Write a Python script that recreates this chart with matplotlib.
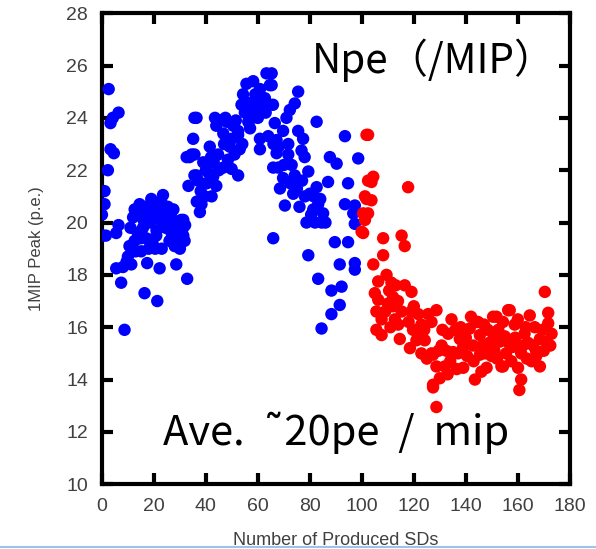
import matplotlib
matplotlib.use("Agg")
import matplotlib.pyplot as plt
from matplotlib.lines import Line2D

# ---- data ----
blue_x = [0, 0.3, 1, 1, 1.5, 2.3, 2.6, 3.3, 3.3, 4.2, 4.6, 5.5, 6.4, 6.4, 5.5, 7.4, 8.7, 8.1,
          10, 10.6, 11.3, 12.6, 12.6, 13.8, 14.5, 15.1, 15.8, 16.4, 17.4, 18.3, 19.0, 19.6, 20.9, 21, 21.3,
          22.2, 22.2, 23.5, 24.1, 25.4, 26.5, 28, 28.6, 29.2, 30.5, 31.2, 31.8, 32.8, 31.3, 31.3,
          11.5, 12, 14, 16.5, 17, 18, 19.5, 20, 21.5, 22.8, 23, 24.5, 25.5, 26, 27, 27.5, 29.5, 30, 32,
          9.5, 11, 13, 15, 16, 17.8, 20.5, 26.8,
          33.3, 33.7, 32.6, 34.5, 35.1, 35.6, 35.6, 35.6, 36.4, 36.4, 36.5, 37.7, 38.3, 39, 40.3, 41.5,
          42.2, 42.8, 43.5, 44.7, 45.4, 46.7, 46.7, 48, 49.2, 49.9, 50.5, 52.4, 52.4, 52.4, 53, 53.7, 54.3,
          55, 55.6, 56.3, 57.6, 58.2, 59.2, 60, 60.8, 60.8, 60.8, 62, 62.7, 63.3, 64, 64.6,
          38, 39.5, 40, 41, 43, 44, 45, 47, 48.5, 50, 51, 51.5, 54, 55.5, 57, 58, 59, 61.5, 63, 44, 47.5, 37, 42,
          65.3, 65.3, 65.9, 65.9, 67.2, 67.2, 67.8, 69.7, 69.7, 70.4, 71, 71.7, 71.7, 72.3, 73.6, 74.2, 74.2,
          75.5, 75.5, 76.8, 77.4, 78.1, 78.7, 79.4, 79.4, 80, 81.3, 82.6, 82.6, 83.2, 83.2, 84.5, 84.5, 85.1,
          87, 87.7, 88.3, 88.3, 89.6, 90.3, 91.5, 91.5, 92.2, 93.5, 93.5, 94.7, 94.7, 96.7, 97.3, 97.3, 97.3,
          97.3, 98.6,
          66.5, 68, 68.5, 70, 72.5, 73, 75, 76, 77, 78, 80.5, 81.5, 82, 84, 86, 65.8, 66]
blue_y = [20.3, 19.5, 21.2, 20.7, 19.5, 22.0, 25.1, 22.8, 23.8, 24.0, 22.65, 19.6, 24.2, 19.9, 18.25, 17.7, 15.9, 18.3,
          18.7, 19.1, 18.4, 19.3, 20.5, 19.6, 20.7, 18.9, 19.8, 17.3, 18.45, 20.0, 20.9, 20.2, 19.5, 19.7, 17.0,
          18.25, 20.1, 21.05, 20.2, 20.6, 20.3, 19.1, 18.4, 19.45, 20.1, 19.8, 19.3, 17.85, 20.1, 19.5,
          19.0, 20.2, 20.3, 20.6, 19.4, 19.0, 19.2, 20.6, 20.4, 20.8, 19.0, 19.8, 19.9, 19.3, 20.0, 20.5, 19.9, 19.0, 19.9,
          18.5, 19.8, 18.9, 19.4, 20.1, 20.5, 19.0, 19.6,
          21.4, 22.5, 22.5, 22.6, 23.2, 24.0, 22.6, 21.8, 24.0, 21.8, 20.8, 20.4, 20.7, 22.3, 21.5, 22.9,
          21.0, 21.75, 24.0, 22.6, 23.9, 23.4, 22.1, 23.85, 22.9, 22.05, 23.7, 23.5, 23.35, 21.8, 22.8, 24.5, 24.9,
          24.2, 25.3, 23.85, 24.55, 25.4, 24.3, 24.0, 25.1, 23.2, 22.8, 24.4, 24.75, 25.7, 23.3, 25.25,
          21.2, 21.0, 22.0, 21.9, 22.3, 21.4, 22.0, 23.0, 22.4, 23.2, 22.6, 23.9, 23.0, 24.6, 23.6, 24.0, 24.9, 24.6, 24.2, 23.7, 24.0, 21.6, 22.5,
          25.7, 25.25, 22.1, 19.4, 23.15, 22.65, 22.1, 23.5, 21.7, 20.65, 24.0, 23.0, 22.6, 24.3, 21.1, 24.55, 21.8,
          25.0, 23.5, 22.75, 23.2, 21.0, 20.0, 21.95, 18.75, 21.1, 20.5, 23.85, 21.35, 20.7, 17.85, 20.0, 15.95, 20.35,
          21.55, 22.5, 17.4, 16.5, 19.25, 22.25, 18.4, 16.85, 17.55, 23.3, 20.7, 21.5, 19.25, 20.35, 20.65, 19.95, 18.45,
          18.2, 22.45,
          23.8, 22.9, 21.3, 22.2, 21.5, 22.2, 21.3, 20.6, 21.6, 22.5, 20.3, 21.0, 20.0, 20.9, 20.0, 24.5, 23.0]

red_x = [99.9, 100.5, 101.2, 101.8, 102.4, 102.4, 104.4, 103.7, 101.8, 103.7, 102.4, 101.2, 100.5, 104.4, 105,
         105.6, 105.6, 106.3, 106.3, 107.6, 107.6, 108.2, 108.2, 109.5, 111.4, 112, 112, 112.7, 113.9, 114.6,
         115.3, 115.3, 116.5, 116.5, 117.8, 119.1, 119.7, 121, 121.7, 122.9, 122.9, 124.2, 126.8, 126.8, 127.4,
         127.4, 127.4, 128.7, 128.7, 128.7, 130, 130.7, 131.9, 133.2, 134.5, 135.1, 137.7, 139, 139, 141.5,
         142.8, 143.5, 144.1, 144.7, 145.4, 145.4, 148, 149.9, 150.5, 150.5, 151.8, 153.1, 153.7, 154.3, 154.3,
         155, 156.3, 156.9, 158.2, 158.8, 160.1, 160.6, 161.3, 161.3, 162.6, 164.6, 165.3, 165.9, 167.1, 168.5,
         168.5, 170.4, 171, 171.7, 171.7, 173,
         110, 110.5, 113, 118, 118.5, 120, 124, 125, 125.5, 129.5, 131, 132.5, 134, 136, 136.5, 138, 140, 140.5,
         142, 143, 146.5, 147, 147.5, 148.5, 149, 151, 152, 152.5, 155.5, 156.5, 157.5, 159, 160, 162, 163,
         163.5, 164, 166.5, 167, 169.5, 170, 172.5, 146, 137, 133, 122, 119, 114, 111, 109]
red_y = [19.65, 20.35, 21.0, 23.35, 23.35, 21.6, 21.75, 21.55, 20.9, 20.85, 20.35, 20.1, 19.6, 18.4, 17.3,
         16.6, 15.9, 17.75, 17.05, 16.3, 15.7, 19.4, 18.75, 18.0, 17.7, 17.15, 16.8, 16.3, 17.0, 15.55,
         19.5, 16.6, 19.1, 17.6, 21.35, 17.35, 15.9, 15.5, 16.5, 16.1, 15.0, 15.5, 16.2, 15.0, 13.8,
         14.95, 13.7, 16.65, 14.5, 12.95, 14.05, 15.3, 14.5, 15.75, 16.3, 15.05, 15.55, 15.25, 14.45, 15.95,
         15.3, 14.0, 16.2, 16.2, 15.7, 14.95, 14.45, 14.9, 15.75, 16.4, 16.4, 15.45, 14.5, 16.2, 14.5,
         15.65, 16.65, 16.65, 15.25, 16.1, 14.45, 13.6, 15.0, 14.0, 15.75, 16.45, 14.7, 15.3, 14.9, 15.55,
         14.5, 17.35, 15.45, 16.55, 16.15, 15.75,
         16.9, 17.4, 17.6, 16.2, 15.2, 16.8, 15.9, 14.8, 16.5, 15.1, 15.9, 15.1, 14.7, 15.9, 14.4, 16.0, 15.6, 14.9,
         16.4, 14.7, 15.3, 16.1, 15.0, 15.9, 15.4, 15.1, 14.8, 15.9, 15.0, 15.4, 14.7, 15.6, 16.3, 15.3, 16.0,
         14.8, 15.4, 16.0, 15.1, 15.9, 15.1, 15.3, 14.3, 15.0, 14.2, 15.8, 16.6, 16.1, 16.0, 16.6]

x_ticks = [0, 20, 40, 60, 80, 100, 120, 140, 160, 180]
y_ticks = [10, 12, 14, 16, 18, 20, 22, 24, 26, 28]
x_label = "Number of Produced SDs"
y_label = "1MIP Peak (p.e.)"

# ---- figure ----
fig = plt.figure(figsize=(5.96, 5.49), dpi=100)
ax = fig.add_axes([0.171, 0.118, 0.785, 0.858])

ax.scatter(blue_x, blue_y, s=80, color="#0000ff", edgecolors="none", zorder=3)
ax.scatter(red_x, red_y, s=80, color="#ff0000", edgecolors="none", zorder=3)

ax.set_xlim(0, 180)
ax.set_ylim(10, 28)
ax.set_xticks(x_ticks)
ax.set_yticks(y_ticks)

tick_color = "#404040"
for sp in ax.spines.values():
    sp.set_linewidth(3.0)
    sp.set_color("black")
ax.tick_params(direction="in", length=8, width=3, top=True, right=True,
               labelsize=14, labelcolor=tick_color, color="black", pad=10)
for lab in ax.get_xticklabels() + ax.get_yticklabels():
    lab.set_family("Liberation Sans")

ax.set_xlabel(x_label, fontsize=13, color=tick_color, family="Liberation Sans", labelpad=12)
ax.set_ylabel(y_label, fontsize=12, color=tick_color, family="Liberation Sans", labelpad=16)

ax.text(0.968, 0.90, "Npe（/MIP）", transform=ax.transAxes, ha="right", va="center",
        fontsize=29, family=["Noto Sans CJK JP", "DejaVu Sans"], color="black")
ax.text(0.50, 0.108, "Ave.  ˜20pe  /  mip", transform=ax.transAxes, ha="center", va="center",
        fontsize=30, family=["Noto Sans CJK JP", "DejaVu Sans"], color="black")

fig.add_artist(Line2D([0, 1], [0.004, 0.004], transform=fig.transFigure,
                      color="#9cc3ee", linewidth=1.5))

fig.savefig("out.png", dpi=100)
